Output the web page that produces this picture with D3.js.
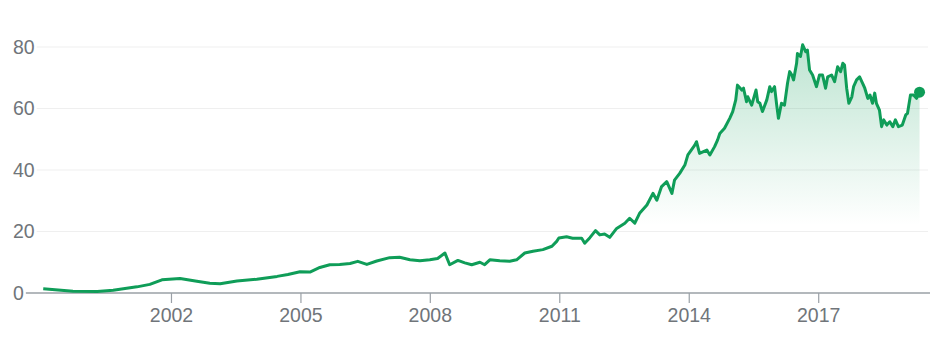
<!DOCTYPE html>
<html>
<head>
<meta charset="utf-8">
<script src="https://cdn.jsdelivr.net/npm/d3@7"></script>
<style>
  body { margin: 0; background: #fff; }
  svg { display: block; font-family: "Liberation Sans", Arial, sans-serif; }
</style>
</head>
<body>
<svg id="vis" width="939" height="350"></svg>
<script>
// values (decimal year, price)
var years = [
  1999.04, 1999.73, 2000.29, 2000.66, 2001.21, 2001.51, 2001.79, 2002.21, 2002.60, 2002.90,
  2003.14, 2003.53, 2003.99, 2004.46, 2004.71, 2004.99, 2005.22, 2005.45, 2005.68, 2005.91,
  2006.15, 2006.33, 2006.54, 2006.77, 2007.07, 2007.30, 2007.54, 2007.77, 2008.00, 2008.18,
  2008.35, 2008.46, 2008.65, 2008.81, 2008.97, 2009.16, 2009.27, 2009.39, 2009.62, 2009.85,
  2010.01, 2010.20, 2010.39, 2010.62, 2010.83, 2010.94, 2010.99, 2011.17, 2011.31, 2011.52,
  2011.59, 2011.71, 2011.84, 2011.94, 2012.05, 2012.17, 2012.33, 2012.52, 2012.63, 2012.75,
  2012.86, 2013.03, 2013.17, 2013.26, 2013.37, 2013.49, 2013.61, 2013.67, 2013.79, 2013.91,
  2013.98, 2014.14, 2014.18, 2014.25, 2014.42, 2014.49, 2014.60, 2014.67, 2014.72, 2014.83,
  2014.95, 2015.02, 2015.09, 2015.13, 2015.23, 2015.27, 2015.34, 2015.37, 2015.46, 2015.56,
  2015.60, 2015.65, 2015.71, 2015.81, 2015.88, 2015.92, 2015.99, 2016.04, 2016.08, 2016.15,
  2016.22, 2016.29, 2016.34, 2016.39, 2016.43, 2016.50, 2016.52, 2016.59, 2016.64, 2016.71,
  2016.75, 2016.80, 2016.87, 2016.96, 2017.03, 2017.10, 2017.17, 2017.22, 2017.31, 2017.38,
  2017.45, 2017.52, 2017.57, 2017.61, 2017.66, 2017.71, 2017.78, 2017.82, 2017.89, 2017.96,
  2018.03, 2018.08, 2018.15, 2018.20, 2018.26, 2018.31, 2018.35, 2018.42, 2018.47, 2018.52,
  2018.59, 2018.66, 2018.73, 2018.79, 2018.86, 2018.95, 2019.03, 2019.07, 2019.14, 2019.21,
  2019.28, 2019.35
];
var prices = [
  1.4, 0.6, 0.45, 0.9, 2.0, 2.8, 4.3, 4.7, 3.8, 3.2,
  3.0, 3.9, 4.5, 5.4, 6.0, 6.9, 6.8, 8.3, 9.2, 9.3,
  9.6, 10.3, 9.3, 10.4, 11.5, 11.6, 10.8, 10.5, 10.8, 11.2,
  13.0, 9.2, 10.6, 9.8, 9.2, 10.0, 9.2, 10.8, 10.5, 10.3,
  10.8, 13.0, 13.6, 14.1, 15.2, 16.8, 17.9, 18.3, 17.8, 17.8,
  16.2, 18.0, 20.3, 18.9, 19.2, 18.1, 21.0, 22.7, 24.3, 22.7,
  25.9, 28.6, 32.4, 30.2, 34.6, 36.2, 32.4, 36.7, 38.9, 41.6,
  44.9, 48.1, 49.2, 45.4, 46.5, 44.9, 47.6, 49.8, 51.9, 53.6,
  56.8, 59.0, 62.8, 67.6, 66.0, 66.6, 62.2, 63.8, 61.1, 66.0,
  62.2, 61.7, 59.0, 62.8, 67.1, 65.5, 67.1, 61.1, 56.8, 61.7,
  61.1, 68.2, 72.0, 70.9, 69.3, 74.7, 77.9, 76.9, 80.7, 78.5,
  79.0, 72.5, 70.9, 67.1, 70.9, 70.9, 66.6, 70.3, 70.9, 68.7,
  73.6, 72.0, 74.7, 74.1, 66.6, 61.7, 63.8, 67.1, 69.3, 70.3,
  68.2, 66.6, 63.3, 64.4, 61.7, 65.0, 61.7, 59.5, 54.1, 56.3,
  54.6, 55.7, 54.1, 56.3, 54.1, 54.6, 57.9, 58.4, 64.4, 64.4,
  63.3, 65.3
];
var yTicks = [0, 20, 40, 60, 80];
var xTicks = [2002, 2005, 2008, 2011, 2014, 2017];

var GREEN = "#0f9d58";
var width = 939, height = 350;

// turn a decimal year into a Date
function toDate(y) {
  var yr = Math.floor(y);
  var start = new Date(yr, 0, 1), end = new Date(yr + 1, 0, 1);
  return new Date(+start + (y - yr) * (end - start));
}

var data = years.map(function (y, i) { return {date: toDate(y), value: prices[i]}; });

var svg = d3.select("#vis");

var x = d3.scaleTime()
  .domain([toDate(1999), toDate(2019.4)])
  .range([41.5, 921.7]);

var y = d3.scaleLinear()
  .domain([0, 80])
  .range([293, 47]);

// gradient under the line
var defs = svg.append("defs");
var grad = defs.append("linearGradient")
  .attr("id", "fillGrad")
  .attr("gradientUnits", "userSpaceOnUse")
  .attr("x1", 0).attr("x2", 0)
  .attr("y1", y(80)).attr("y2", y(22));
grad.append("stop").attr("offset", 0).attr("stop-color", GREEN).attr("stop-opacity", 0.27);
grad.append("stop").attr("offset", 1).attr("stop-color", GREEN).attr("stop-opacity", 0);

// y labels + gridlines (label sits left, line starts right after it)
var yAxis = svg.append("g").attr("class", "y-axis");
yTicks.forEach(function (t) {
  var lbl = yAxis.append("text")
    .attr("x", 13)
    .attr("y", y(t))
    .attr("dy", "0.35em")
    .attr("fill", "#70757a")
    .style("font-size", "19.5px")
    .text(t);
  var end = 13 + lbl.node().getComputedTextLength();
  yAxis.append("line")
    .attr("x1", end + 2)
    .attr("x2", t === 0 ? 930 : 928)
    .attr("y1", y(t)).attr("y2", y(t))
    .attr("stroke", t === 0 ? "#9aa0a6" : "#efefef")
    .attr("stroke-width", t === 0 ? 1.5 : 1);
});

// area + line
var area = d3.area()
  .x(function (d) { return x(d.date); })
  .y0(y(0))
  .y1(function (d) { return y(d.value); });

var line = d3.line()
  .x(function (d) { return x(d.date); })
  .y(function (d) { return y(d.value); });

svg.append("path")
  .datum(data)
  .attr("d", area)
  .attr("fill", "url(#fillGrad)");

svg.append("path")
  .datum(data)
  .attr("d", line)
  .attr("fill", "none")
  .attr("stroke", GREEN)
  .attr("stroke-width", 3)
  .attr("stroke-linejoin", "round");

// end dot
var last = data[data.length - 1];
svg.append("circle")
  .attr("cx", x(last.date))
  .attr("cy", y(last.value))
  .attr("r", 5.5)
  .attr("fill", GREEN);

// x axis ticks + labels
var xAxis = d3.axisBottom(x)
  .tickValues(xTicks.map(toDate))
  .tickFormat(d3.timeFormat("%Y"))
  .tickSize(10)
  .tickSizeOuter(0)
  .tickPadding(5);

var gx = svg.append("g")
  .attr("transform", "translate(0," + y(0) + ")")
  .call(xAxis);
gx.select(".domain").remove();
gx.selectAll(".tick line").attr("stroke", "#9aa0a6").attr("stroke-width", 1.2);
gx.selectAll(".tick text")
  .attr("fill", "#70757a")
  .style("font-size", "19.5px")
  .style("font-family", "\"Liberation Sans\", Arial, sans-serif");
</script>
</body>
</html>
